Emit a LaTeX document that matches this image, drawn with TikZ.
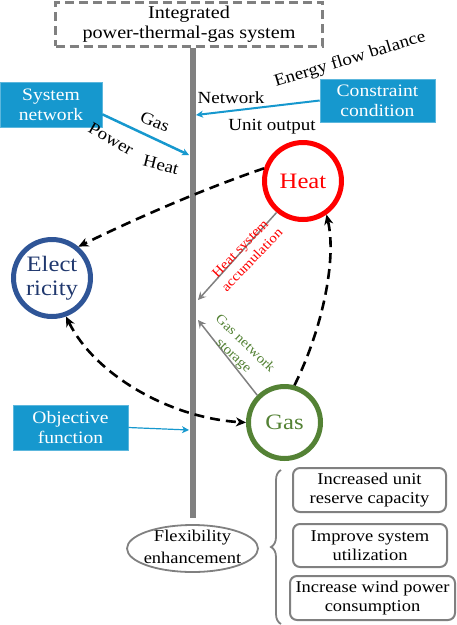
\documentclass[tikz,border=0pt]{standalone}
\usepackage{fontspec}
\setmainfont[FakeStretch=1.12]{Liberation Serif}
\usetikzlibrary{arrows.meta,shapes.geometric,decorations.pathreplacing}
\definecolor{boxblue}{RGB}{22,152,206}
\definecolor{elecblue}{RGB}{47,85,151}
\definecolor{electext}{RGB}{32,56,110}
\definecolor{gasgreen}{RGB}{84,130,53}
\definecolor{bargray}{RGB}{128,128,128}
\begin{document}
\begin{tikzpicture}[x=1pt,y=-1pt,
  txt/.style={font=\fontsize{17}{19.5}\selectfont, inner sep=0pt, align=center},
  bluebox/.style={fill=boxblue, draw=boxblue!70!white, line width=0.6pt, text=white, align=center,
     font=\fontsize{17.5}{20}\selectfont, inner sep=0pt},
  ringnode/.style={circle, line width=5pt, inner sep=0pt, align=center},
  greybox/.style={draw=bargray, line width=2pt, rounded corners=7pt, align=center, inner sep=0pt,
     font=\fontsize{16.5}{19}\selectfont},
  dasharrow/.style={line width=2.6pt, dash pattern=on 10pt off 6pt, -{Stealth[length=10pt,width=9pt,inset=3pt]}},
  dashboth/.style={line width=2.6pt, dash pattern=on 10pt off 6pt, {Stealth[length=10pt,width=9pt,inset=3pt]}-{Stealth[length=10pt,width=9pt,inset=3pt]}},
  bluearrow/.style={draw=boxblue, -{Stealth[length=7pt,width=7pt,inset=2pt]}},
  grayarrow/.style={draw=bargray, line width=1.5pt, -{Stealth[length=8pt,width=8pt,inset=3pt]}},
  small/.style={font=\fontsize{13.5}{16.5}\selectfont, inner sep=0pt, align=center}
]
\useasboundingbox (0,0) rectangle (457,625);

% top dashed box
\node[draw=bargray, line width=3pt, dash pattern=on 9pt off 5pt, minimum width=267pt, minimum height=44pt,
      align=center, font=\fontsize{18}{19.5}\selectfont, inner sep=0pt] (top) at (189,24) {Integrated\\power-thermal-gas system};

% flexibility ellipse
\node[ellipse, draw=bargray, line width=1.8pt, minimum width=131pt, minimum height=47pt, inner sep=0pt] (flex) at (192.5,548.5) {};
\node[txt, font=\fontsize{16.5}{22}\selectfont] (flextext) at (192.5,547) {Flexibility\\enhancement};

% central bar
\coordinate (barbot) at (193,518);
\draw[bargray, line width=6pt] (top.south -| barbot) -- (barbot);

% blue boxes
\node[bluebox, minimum width=102pt, minimum height=45pt] (sys) at (51,104.5) {System\\network};
\node[bluebox, minimum width=115pt, minimum height=43pt] (con) at (377.5,100.5) {Constraint\\condition};
\node[bluebox, minimum width=115pt, minimum height=45pt] (obj) at (70.5,427.5) {Objective\\function};

% arrows to bar
\coordinate (bsys) at (189,155);
\coordinate (bcon) at (196,115);
\coordinate (bobj) at (189,430);
\draw[bluearrow, line width=2.5pt] (sys.south east) ++(0,-13) -- (bsys);
\draw[bluearrow, line width=2pt] (con.west) -- (bcon);
\draw[bluearrow, line width=1.2pt] (obj.east) -- (bobj);

% labels
\node[txt, rotate=-22] (lgas) at (155,122) {Gas};
\node[txt, rotate=-30] (lpower) at (111,139) {Power};
\node[txt, rotate=-14] (lheat) at (161,165) {Heat};
\node[txt] (lnet) at (231,98) {Network};
\node[txt] (lunit) at (272,127) {Unit output};
\node[txt, rotate=17] (lenergy) at (350,60) {Energy flow balance};

% rings
\node[ringnode, draw=red, text=red, minimum size=77pt, font=\fontsize{22}{24}\selectfont] (heat) at (303,181) {Heat};
\node[ringnode, draw=elecblue, text=electext, minimum size=77pt, font=\fontsize{22}{24}\selectfont] (elec) at (52,278) {Elect\\ricity};
\node[ringnode, draw=gasgreen, text=gasgreen, minimum size=72pt, font=\fontsize{22}{24}\selectfont] (gas) at (284.5,422.5) {Gas};

% dashed connectors
\draw[dasharrow] (heat.162) .. controls (212,186) and (145,214) .. (elec.50);
\draw[dashboth] (elec.-70) .. controls (95,375) and (170,418) .. (gas.180);
\draw[dasharrow] (gas.75) .. controls (322,330) and (337,260) .. (heat.-55);

% gray arrows
\coordinate (bheat) at (198,300);
\coordinate (bgas) at (198,320);
\draw[grayarrow] (heat.-130) -- (bheat);
\draw[grayarrow] (gas.135) -- (bgas);
\node[small, text=red, rotate=46] (lha) at (246,254) {Heat system\\accumulation};
\node[small, text=gasgreen, rotate=-44] (lgs) at (239,350) {Gas network\\storage};

% right boxes
\node[greybox, minimum width=153pt, minimum height=44pt] (r1) at (369.5,490) {Increased unit\\reserve capacity};
\node[greybox, minimum width=154pt, minimum height=43pt] (r2) at (370,545.5) {Improve system\\utilization};
\node[greybox, minimum width=165pt, minimum height=44pt] (r3) at (372.5,598) {Increase wind power\\consumption};

% brace
\draw[bargray, line width=1.8pt, decorate, decoration={brace, amplitude=10pt}] (281,624) -- (281,470);
\end{tikzpicture}
\end{document}
